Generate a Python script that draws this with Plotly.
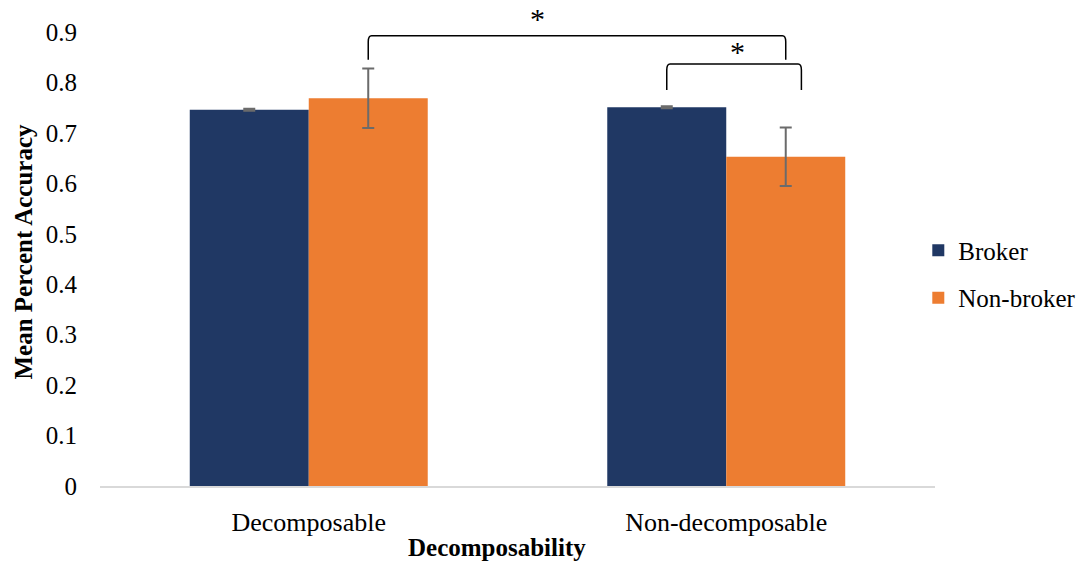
import plotly.graph_objects as go

# Data
categories = ["Decomposable", "Non-decomposable"]
series_names = ["Broker", "Non-broker"]
broker_mean = [0.746, 0.751]
broker_err = [0.002, 0.002]
nonbroker_mean = [0.769, 0.653]
nonbroker_err = [0.059, 0.058]
y_ticks = [0, 0.1, 0.2, 0.3, 0.4, 0.5, 0.6, 0.7, 0.8, 0.9]
y_ticktext = ["0", "0.1", "0.2", "0.3", "0.4", "0.5", "0.6", "0.7", "0.8", "0.9"]

colors = ["#203864", "#ED7D31"]
FONT = "Liberation Serif, Times New Roman, serif"
BARGAP = 0.43
half = (1 - BARGAP) / 4  # offset of each bar centre from its category centre

xpos = list(range(len(categories)))

fig = go.Figure()
for name, vals, errs, col in zip(series_names, [broker_mean, nonbroker_mean],
                                 [broker_err, nonbroker_err], colors):
    fig.add_trace(go.Bar(
        x=xpos, y=vals, name=name, legendgroup=name,
        marker=dict(color=col, line=dict(width=0)),
        error_y=dict(type="data", array=errs, visible=True,
                     color="#6b6b6b", thickness=2, width=6),
    ))


def bracket(xa, xb, ybot, ytop, dx=0.008, dy=0.012):
    return (f"M {xa},{ybot} L {xa},{ytop - dy} Q {xa},{ytop} {xa + dx},{ytop} "
            f"L {xb - dx},{ytop} Q {xb},{ytop} {xb},{ytop - dy} L {xb},{ybot}")


# significance brackets
fig.add_shape(type="path", xref="x", yref="y",
              path=bracket(xpos[0] + half, xpos[1] + half, 0.845, 0.893),
              line=dict(color="black", width=1.5))
fig.add_shape(type="path", xref="x", yref="y",
              path=bracket(xpos[1] - half, xpos[1] + 0.18, 0.785, 0.837),
              line=dict(color="black", width=1.5))

fig.add_annotation(x=0.547, y=1.0, xref="x", yref="paper", text="*", showarrow=False,
                   font=dict(family=FONT, size=30, color="black"), yanchor="middle")
fig.add_annotation(x=1.028, y=0.862, xref="x", yref="y", text="*", showarrow=False,
                   font=dict(family=FONT, size=30, color="black"), yanchor="middle")

# x axis title
fig.add_annotation(x=0.451, y=-0.163, xref="x", yref="paper", text="<b>Decomposability</b>",
                   showarrow=False, font=dict(family=FONT, size=25, color="black"),
                   yanchor="bottom", borderpad=0)

fig.update_layout(
    width=1081, height=564,
    margin=dict(l=100, r=146, t=18, b=78, autoexpand=False),
    paper_bgcolor="white", plot_bgcolor="white",
    barmode="group", bargap=BARGAP, bargroupgap=0,
    font=dict(family=FONT, size=26, color="black"),
    showlegend=True,
    legend=dict(x=0.98, xanchor="left", y=0.453, yanchor="middle",
                font=dict(family=FONT, size=25, color="black"),
                tracegroupgap=12, itemwidth=30, bgcolor="rgba(0,0,0,0)"),
    xaxis=dict(range=[-0.5, 1.5], tickvals=xpos, ticktext=categories,
               showgrid=False, zeroline=False, showline=True,
               linecolor="#d9d9d9", linewidth=1.5, ticks="",
               ticklabelstandoff=12, tickfont=dict(size=26)),
    yaxis=dict(range=[0, 0.928], tickvals=y_ticks, ticktext=y_ticktext,
               showgrid=False, zeroline=False, showline=False, ticks="",
               ticklabelstandoff=22, tickfont=dict(size=25),
               title=dict(text="<b>Mean Percent Accuracy</b>", standoff=6,
                          font=dict(family=FONT, size=25))),
)

fig.write_html("out.html")
